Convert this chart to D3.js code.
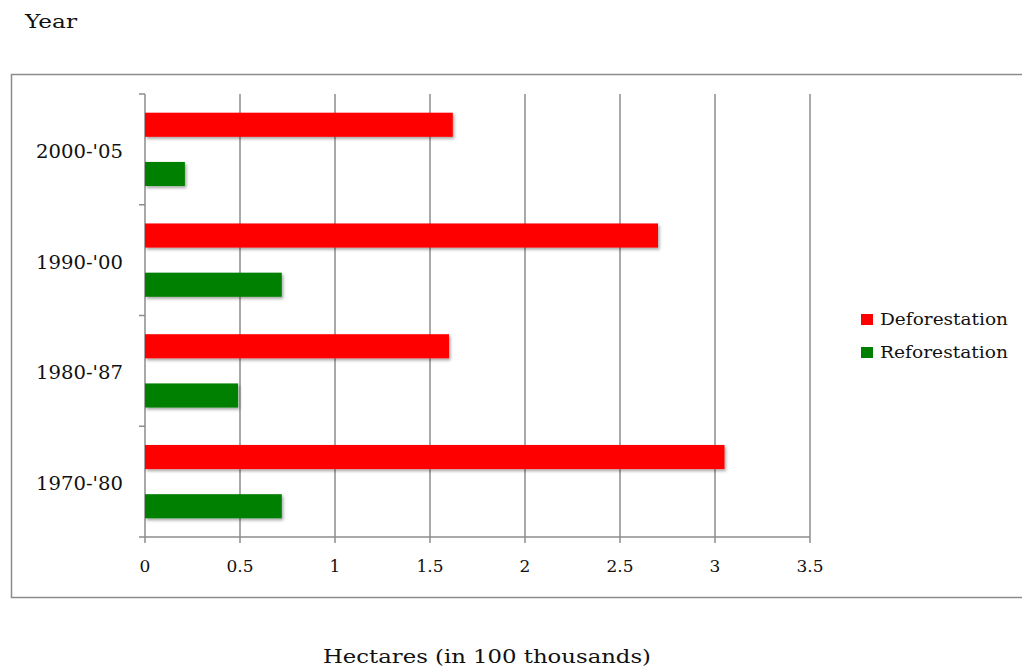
<!DOCTYPE html>
<html>
<head>
<meta charset="utf-8">
<script src="https://cdn.jsdelivr.net/npm/d3@7"></script>
<style>
  html, body { margin: 0; padding: 0; background: #fff; }
  svg text { font-family: "DejaVu Serif", "Liberation Serif", serif; fill: #111; }
</style>
</head>
<body>
<svg id="chart" width="1022" height="668"></svg>
<script>
// Periods listed from top to bottom
const periods = ["2000-'05", "1990-'00", "1980-'87", "1970-'80"];
const seriesNames = ["Deforestation", "Reforestation"];
const seriesColors = ["#ff0000", "#008000"];
const deforestation = [1.62, 2.70, 1.60, 3.05];
const reforestation = [0.21, 0.72, 0.49, 0.72];
const xTicks = [0, 0.5, 1, 1.5, 2, 2.5, 3, 3.5];

const svg = d3.select("#chart");

const defs = svg.append("defs");
const f = defs.append("filter").attr("id", "shadow")
  .attr("x", "-5%").attr("y", "-30%").attr("width", "115%").attr("height", "180%");
f.append("feDropShadow").attr("dx", 1.5).attr("dy", 2).attr("stdDeviation", 1.5)
  .attr("flood-color", "#000").attr("flood-opacity", 0.35);

// outer chart frame
svg.append("rect").attr("x", 11.5).attr("y", 74.5).attr("width", 1020).attr("height", 523)
  .attr("fill", "none").attr("stroke", "#8c8c8c").attr("stroke-width", 1.5);

const plot = { left: 145, top: 94, right: 810, bottom: 537 };

const x = d3.scaleLinear().domain([0, 3.5]).range([plot.left, plot.right]);
const y = d3.scaleBand().domain(periods).range([plot.top, plot.bottom]);
const inner = d3.scaleBand().domain(seriesNames).range([0, y.bandwidth()])
  .paddingInner(0.51).paddingOuter(0.38);

// vertical gridlines, extending down as tick marks
svg.append("g").selectAll("line").data(xTicks).join("line")
  .attr("x1", d => x(d)).attr("x2", d => x(d))
  .attr("y1", plot.top).attr("y2", plot.bottom + 6)
  .attr("stroke", "#8c8c8c").attr("stroke-width", 1.5);

// horizontal axis line
svg.append("line").attr("x1", plot.left).attr("x2", plot.right)
  .attr("y1", plot.bottom).attr("y2", plot.bottom)
  .attr("stroke", "#8c8c8c").attr("stroke-width", 1.5);

// category tick marks on the vertical axis
const boundaries = periods.map(p => y(p)).concat([plot.bottom]);
svg.append("g").selectAll("line").data(boundaries).join("line")
  .attr("x1", plot.left - 6).attr("x2", plot.left)
  .attr("y1", d => d).attr("y2", d => d)
  .attr("stroke", "#8c8c8c").attr("stroke-width", 1.5);

// x tick labels
svg.append("g").selectAll("text").data(xTicks).join("text")
  .attr("x", d => x(d)).attr("y", 572)
  .attr("text-anchor", "middle").attr("font-size", 17)
  .text(d => d3.format("")(d));

// y tick labels
svg.append("g").selectAll("text").data(periods).join("text")
  .attr("x", 79.5).attr("y", d => y(d) + y.bandwidth() / 2 + 8.5)
  .attr("text-anchor", "middle").attr("font-size", 18)
  .attr("textLength", 87).attr("lengthAdjust", "spacingAndGlyphs")
  .text(d => d);

// bars
const rows = periods.map((p, i) => ({ period: p, values: [deforestation[i], reforestation[i]] }));
const groups = svg.append("g").selectAll("g").data(rows).join("g")
  .attr("transform", d => `translate(0,${y(d.period)})`);
groups.selectAll("rect").data(d => d.values.map((v, j) => ({ v, name: seriesNames[j], color: seriesColors[j] })))
  .join("rect")
  .attr("x", x(0))
  .attr("y", d => inner(d.name))
  .attr("width", d => x(d.v) - x(0))
  .attr("height", inner.bandwidth())
  .attr("fill", d => d.color)
  .attr("filter", "url(#shadow)");

// legend
const legend = svg.append("g").selectAll("g").data(seriesNames).join("g")
  .attr("transform", (d, i) => `translate(861,${314 + i * 33})`);
legend.append("rect").attr("width", 12).attr("height", 11).attr("fill", (d, i) => seriesColors[i]);
legend.append("text").attr("x", 19).attr("y", 11).attr("font-size", 17.5)
  .attr("textLength", 128).attr("lengthAdjust", "spacingAndGlyphs")
  .text(d => d);

// axis titles
svg.append("text").attr("x", 25).attr("y", 28).attr("font-size", 19)
  .attr("textLength", 52).attr("lengthAdjust", "spacingAndGlyphs").text("Year");
svg.append("text").attr("x", 323).attr("y", 663)
  .attr("font-size", 19).attr("textLength", 328).attr("lengthAdjust", "spacingAndGlyphs")
  .text("Hectares (in 100 thousands)");
</script>
</body>
</html>
